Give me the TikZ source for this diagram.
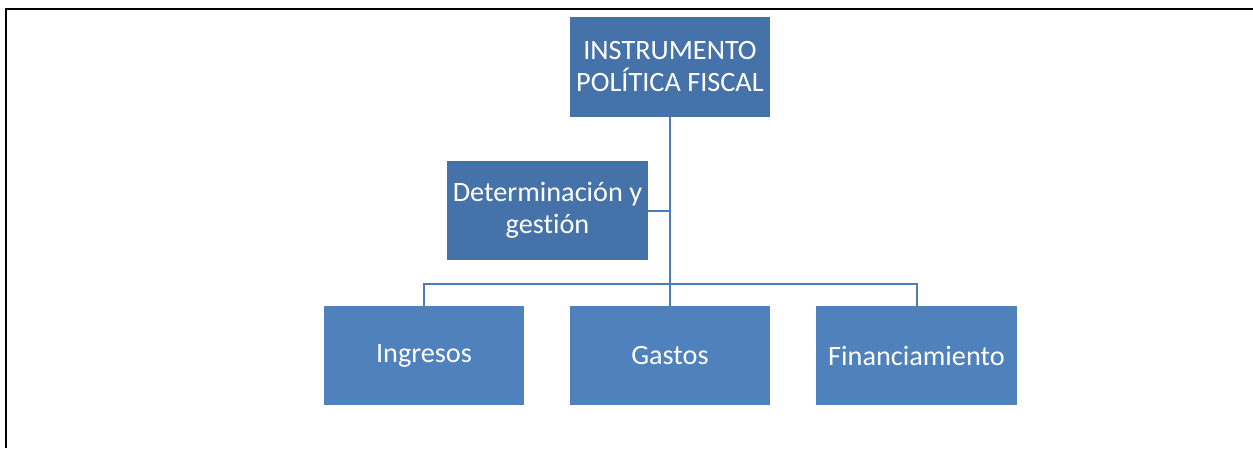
\documentclass[tikz,border=0pt]{standalone}
\usepackage{fontspec}
\newfontfamily\boxfont[FakeStretch=1.01, RawFeature={-liga}]{Carlito}
\definecolor{darkbox}{HTML}{4672AA}
\definecolor{lightbox}{HTML}{4F81BD}
\definecolor{linkblue}{HTML}{4A7EBB}
\tikzset{
  orgbox/.style={fill=#1, draw=none, minimum width=200pt, minimum height=99pt,
    inner sep=0pt, align=center, text=white,
    font=\boxfont\fontsize{28}{32}\selectfont},
  link/.style={draw=linkblue, line width=2pt},
  frameline/.style={draw=black, line width=2.2pt}
}
\begin{document}
\begin{tikzpicture}[x=1pt, y=-1pt]
\useasboundingbox (0,0) rectangle (1253,448);
\coordinate (ftop) at (6,9);
\coordinate (fright) at (1253,9);
\coordinate (fbottom) at (6,448);
\draw[frameline] (fbottom) -- (ftop) -- (fright);

\node[orgbox=darkbox, minimum height=100pt] (top) at (670,67) {INSTRUMENTO\\POLÍTICA FISCAL};
\node[orgbox=darkbox, minimum width=201pt] (det) at (547.5,210.5) {Determinación y\\gestión};
\node[orgbox=lightbox] (ing) at (424,355.5) {Ingresos};
\node[orgbox=lightbox] (gas) at (670,355.5) {Gastos};
\node[orgbox=lightbox, minimum width=201pt] (fin) at (916.5,355.5) {Financiamiento};

\coordinate (bus) at (670,284);
\draw[link] (top.south) -- (gas.north);
\draw[link] (det.east) -- (det.east -| top.south);
\draw[link] (ing.north) |- (bus) -| (fin.north);
\end{tikzpicture}
\end{document}
